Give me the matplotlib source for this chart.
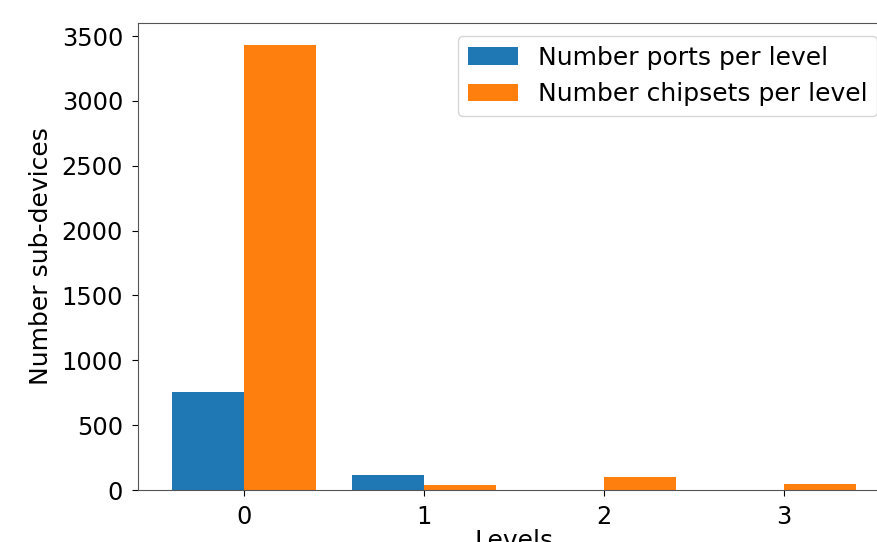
import matplotlib
matplotlib.use("Agg")
import matplotlib.pyplot as plt
import numpy as np

levels = [0, 1, 2, 3]
ports = [757, 116, 0, 0]
chipsets = [3430, 39, 100, 46]

plt.rcParams['font.family'] = ['DejaVu Sans']
plt.rcParams['font.size'] = 18

fig = plt.figure(figsize=(8.78, 5.42), dpi=100)
ax = fig.add_axes([138/878, 52/542, (890-138)/878, (490-23)/542])

x = np.arange(len(levels))
w = 0.4
ax.bar(x - w/2, ports, w, color='#1f77b4', label='Number ports per level')
ax.bar(x + w/2, chipsets, w, color='#ff7f0e', label='Number chipsets per level')
ax.set_xticks(x)
ax.set_xticklabels([str(l) for l in levels])
ax.tick_params(axis='both', labelsize=17.3, length=4.3, pad=6.5)
ax.set_xlabel('Levels', fontsize=18, labelpad=0)
ax.set_ylabel('Number sub-devices', fontsize=18, labelpad=6)
for s in ax.spines.values():
    s.set_color('#555555')
ax.legend(loc='upper right', fontsize=18)

fig.savefig('out.png', dpi=100)
